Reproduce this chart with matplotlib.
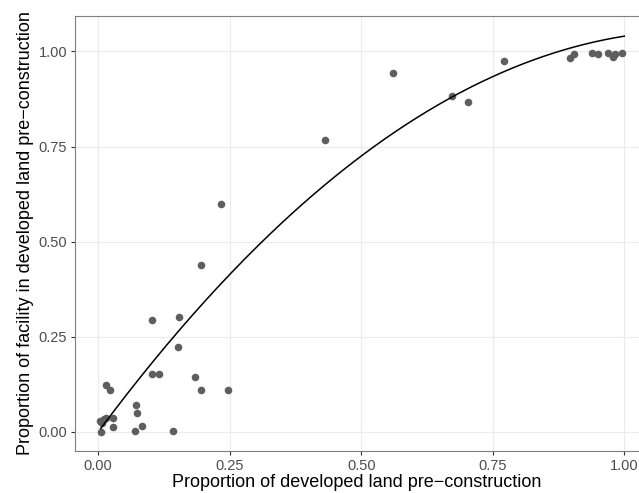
import numpy as np
import matplotlib
matplotlib.use("Agg")
import matplotlib.pyplot as plt

plt.rcParams["font.family"] = ["Liberation Sans", "DejaVu Sans"]

# proportion of developed land pre-construction (x) vs facility in developed land (y)
prop_land = [0.003, 0.007, 0.012, 0.015, 0.005, 0.008, 0.014, 0.023, 0.029, 0.029,
             0.070, 0.072, 0.073, 0.083, 0.102, 0.102, 0.116, 0.142, 0.151, 0.153,
             0.184, 0.196, 0.196, 0.233, 0.247,
             0.431, 0.560, 0.672, 0.703, 0.771,
             0.897, 0.904, 0.939, 0.951, 0.969, 0.978, 0.982, 0.996]
prop_facility = [0.028, 0.030, 0.035, 0.038, 0.000, 0.024, 0.124, 0.109, 0.037, 0.013,
                 0.003, 0.071, 0.050, 0.017, 0.153, 0.293, 0.153, 0.003, 0.223, 0.301,
                 0.145, 0.111, 0.440, 0.599, 0.111,
                 0.768, 0.943, 0.884, 0.868, 0.975,
                 0.982, 0.992, 0.997, 0.993, 0.997, 0.986, 0.993, 0.997]

# quadratic fit coefficients (highest power first)
fit_coef = [-0.82, 1.86, 0.0]
fit_range = (0.005, 1.0)

fig = plt.figure(figsize=(6.39, 4.93), dpi=100)
ax = fig.add_axes([75 / 639, 1 - 451 / 493, (639 - 75) / 639, (451 - 16) / 493])

ax.scatter(prop_land, prop_facility, s=30, color="#5e5e5e", linewidths=0, zorder=3)

xs = np.linspace(*fit_range, 200)
ax.plot(xs, np.polyval(fit_coef, xs), color="black", lw=1.1, zorder=4)

ax.set_xlim(-0.044, 1.028)
ax.set_ylim(-0.05, 1.093)
ticks = [0, 0.25, 0.5, 0.75, 1.0]
ax.set_xticks(ticks)
ax.set_yticks(ticks)
ax.set_xticklabels(["0.00", "0.25", "0.50", "0.75", "1.00"])
ax.set_yticklabels(["0.00", "0.25", "0.50", "0.75", "1.00"])
ax.grid(True, color="#ebebeb", lw=0.8, zorder=0)
ax.set_axisbelow(True)

for side in ["left", "bottom", "top"]:
    ax.spines[side].set_color("#7f7f7f")
    ax.spines[side].set_linewidth(0.8)
ax.spines["right"].set_visible(False)

ax.tick_params(length=3, width=0.8, color="#333333", labelcolor="#4d4d4d",
               labelsize=10.5, pad=2.5)

ax.set_xlabel("Proportion of developed land pre\u2212construction", fontsize=13, labelpad=1)
ax.set_ylabel("Proportion of facility in developed land pre\u2212construction", fontsize=13, labelpad=3)

fig.savefig("out.png", dpi=100)
